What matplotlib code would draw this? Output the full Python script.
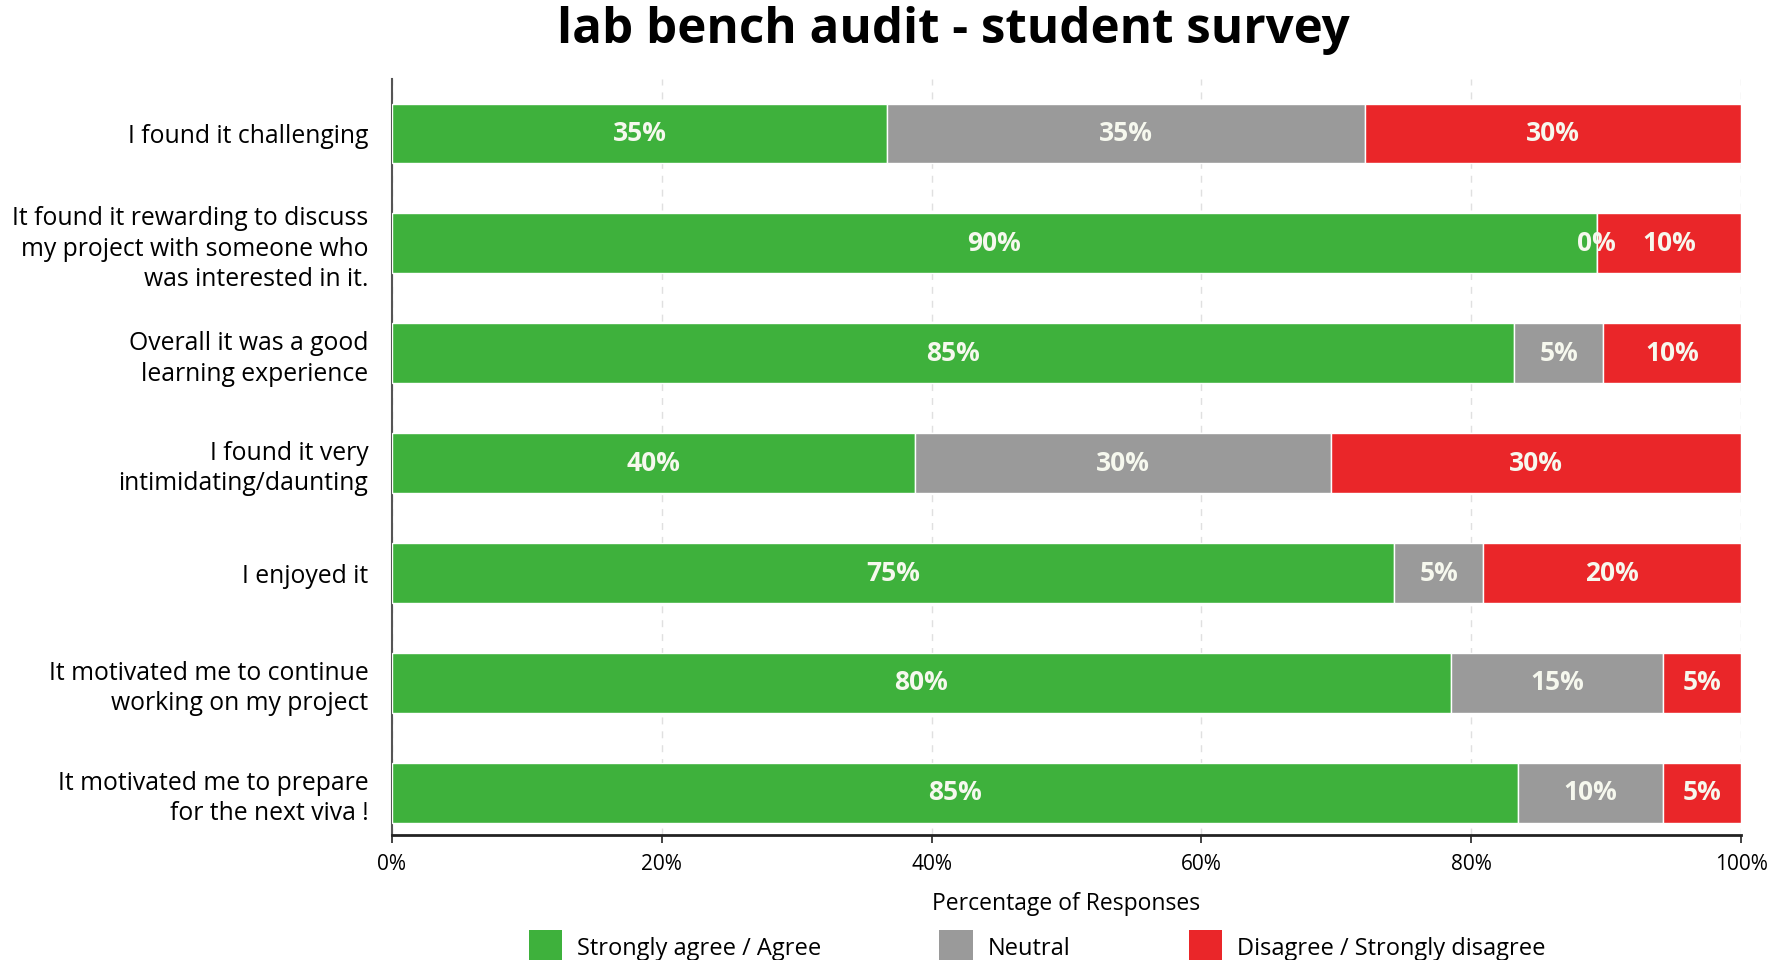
import matplotlib
matplotlib.use('Agg')
import matplotlib.pyplot as plt
from matplotlib.patches import Patch
import numpy as np

# survey statements (top to bottom)
questions = [
    'I found it challenging',
    'It found it rewarding to discuss\nmy project with someone who\nwas interested in it.',
    'Overall it was a good\nlearning experience',
    'I found it very\nintimidating/daunting',
    'I enjoyed it',
    'It motivated me to continue\nworking on my project',
    'It motivated me to prepare\nfor the next viva !',
]

# bar widths (percent)
agree = [36.7, 89.3, 83.2, 38.8, 74.3, 78.5, 83.5]
neutral = [35.4, 0.0, 6.6, 30.8, 6.6, 15.7, 10.7]
disagree = [27.9, 10.7, 10.2, 30.4, 19.1, 5.8, 5.8]

# percentages printed in the bars
agree_pct = [35, 90, 85, 40, 75, 80, 85]
neutral_pct = [35, 0, 5, 30, 5, 15, 10]
disagree_pct = [30, 10, 10, 30, 20, 5, 5]

series = ['Strongly agree / Agree', 'Neutral', 'Disagree / Strongly disagree']
colors = ['#3eb13c', '#9a9a9a', '#ea2629']

plt.rcParams['font.family'] = ['Open Sans', 'DejaVu Sans']

fig = plt.figure(figsize=(17.76, 9.6), dpi=100, facecolor='white')
ax = fig.add_axes([0.2207, 0.1302, 0.7596, 0.7875])

y = np.arange(len(questions))
left = np.zeros(len(questions))
for vals, pcts, col, name in zip([agree, neutral, disagree],
                                 [agree_pct, neutral_pct, disagree_pct],
                                 colors, series):
    vals = np.array(vals)
    ax.barh(y, vals, left=left, height=0.545, color=col, edgecolor='white',
            linewidth=1, label=name, zorder=3)
    for yi, l, v, p in zip(y, left, vals, pcts):
        ax.text(l + v / 2, yi, f'{p}%', ha='center', va='center',
                color='#f6f8ee', fontsize=19, fontweight='bold', zorder=4)
    left += vals

ax.set_xlim(0, 100)
ax.set_ylim(6.384, -0.496)
ax.set_xticks([0, 20, 40, 60, 80, 100])
ax.set_xticklabels(['0%', '20%', '40%', '60%', '80%', '100%'], fontsize=15)
ax.set_yticks(y)
ax.set_yticklabels(questions, fontsize=17.8, linespacing=1.28)

ax.tick_params(axis='y', length=0, pad=17)
ax.tick_params(axis='x', length=6, width=1.2, pad=8, color='#222222')
ax.xaxis.grid(True, linestyle=(0, (5, 5)), color='#e0e0e0', linewidth=1, zorder=0)
ax.set_axisbelow(True)

for s in ['top', 'right']:
    ax.spines[s].set_visible(False)
ax.spines['left'].set_color('#555555')
ax.spines['left'].set_linewidth(1.5)
ax.spines['bottom'].set_color('#222222')
ax.spines['bottom'].set_linewidth(2)

ax.set_xlabel('Percentage of Responses', fontsize=16.5, labelpad=12)
fig.suptitle('lab bench audit - student survey', fontsize=35.5, fontweight='bold',
             x=0.537, y=0.968, va='center')

handles = [Patch(facecolor=c, edgecolor='none') for c in colors]
fig.legend(handles, series, loc='upper center', ncol=3, bbox_to_anchor=(0.584, 0.031),
           frameon=False, fontsize=17, handlelength=1.4, handleheight=1.8,
           columnspacing=5.0, handletextpad=0.65, borderaxespad=0, borderpad=0)

fig.savefig('out.png', dpi=100, facecolor='white')
